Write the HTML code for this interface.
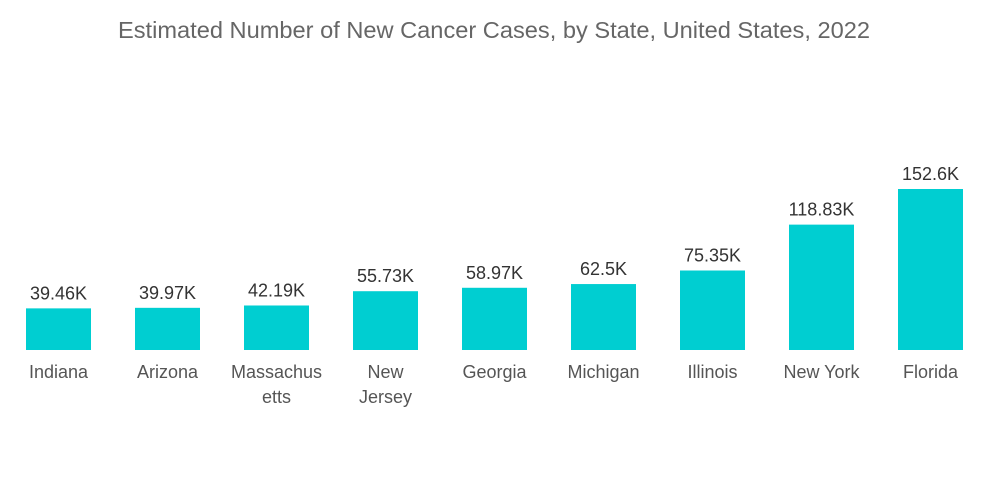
<!DOCTYPE html>
<html><head><meta charset="utf-8"><style>
html,body{margin:0;padding:0;background:#fff;}
svg{display:block;font-family:"Liberation Sans",sans-serif;}
</style></head><body>
<svg id="chart" width="1000" height="504">
<text x="494" y="38" text-anchor="middle" font-size="23" textLength="752" lengthAdjust="spacingAndGlyphs" fill="#666">Estimated Number of New Cancer Cases, by State, United States, 2022</text>
<g id="bars"></g>
</svg>
<script>
const categories = [["Indiana"],["Arizona"],["Massachus","etts"],["New","Jersey"],["Georgia"],["Michigan"],["Illinois"],["New York"],["Florida"]];
const values = [39.46,39.97,42.19,55.73,58.97,62.5,75.35,118.83,152.6];
const valueLabels = ["39.46K","39.97K","42.19K","55.73K","58.97K","62.5K","75.35K","118.83K","152.6K"];
const baseY = 350, scale = 161/152.6, x0 = 26, step = 109, bw = 65;
function yPos(v){return baseY - v*scale;}
function xPos(i){return x0 + i*step;}
const ns="http://www.w3.org/2000/svg", g=document.getElementById('bars');
values.forEach((v,i)=>{
  const r=document.createElementNS(ns,'rect');
  r.setAttribute('x',xPos(i));r.setAttribute('y',yPos(v));
  r.setAttribute('width',bw);r.setAttribute('height',baseY-yPos(v));
  r.setAttribute('fill','#00ced1');
  
  
  g.appendChild(r);
  const t=document.createElementNS(ns,'text');
  t.setAttribute('x',xPos(i)+bw/2);t.setAttribute('y',yPos(v)-9);
  t.setAttribute('text-anchor','middle');t.setAttribute('font-size','18');t.setAttribute('fill','#333');
  t.textContent=valueLabels[i];
  
  
  g.appendChild(t);
  categories[i].forEach((line,j)=>{
    const c=document.createElementNS(ns,'text');
    c.setAttribute('x',xPos(i)+bw/2);c.setAttribute('y',378+j*25);
    c.setAttribute('text-anchor','middle');c.setAttribute('font-size','18');c.setAttribute('fill','#555');
    c.textContent=line;
    
    
    g.appendChild(c);
  });
});
</script>
</body></html>
